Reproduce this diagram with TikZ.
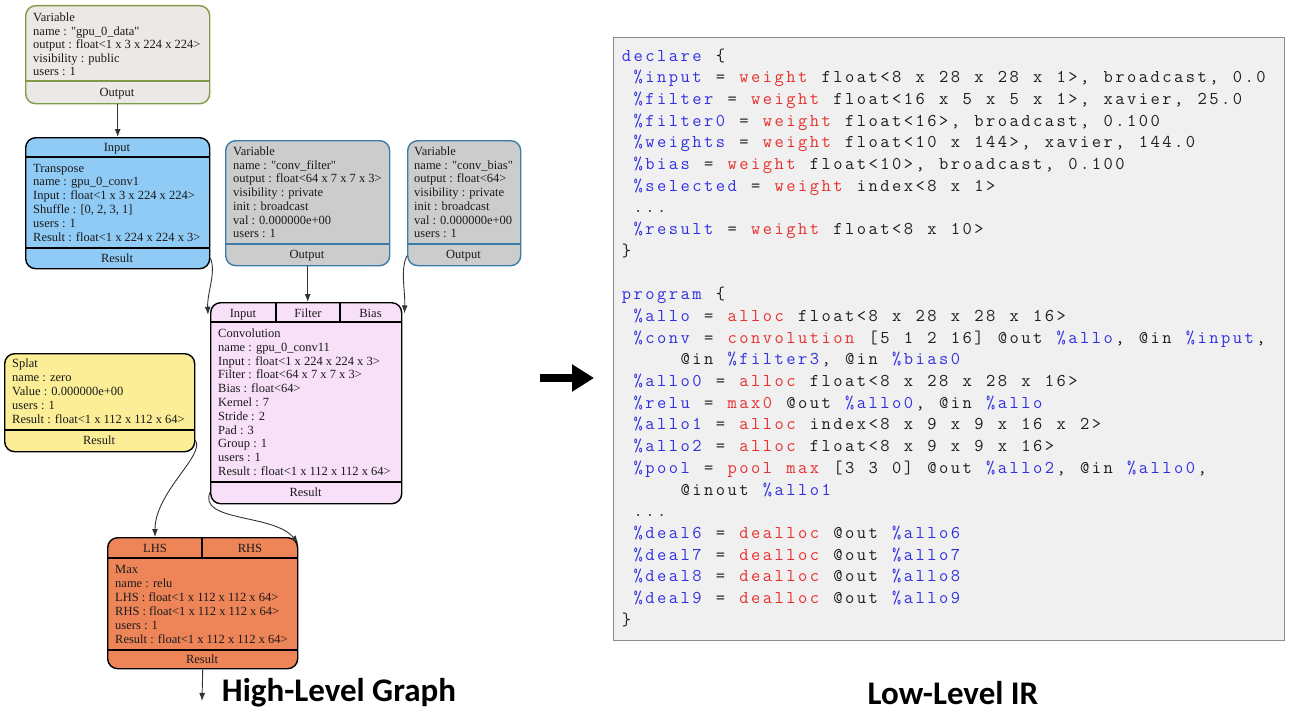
\documentclass[tikz,border=0pt]{standalone}
\usepackage{fontspec}
\setmainfont{Liberation Serif}
\newfontfamily\capfont{Carlito}
\usetikzlibrary{arrows.meta}
\definecolor{gpufill}{HTML}{ECE8E5}
\definecolor{gpudraw}{HTML}{7F9A48}
\definecolor{trfill}{HTML}{8FCBF5}
\definecolor{varfill}{HTML}{CCCCCC}
\definecolor{vardraw}{HTML}{3B7DA6}
\definecolor{convfill}{HTML}{F8E0F8}
\definecolor{splatfill}{HTML}{FBEE96}
\definecolor{maxfill}{HTML}{EE8558}
\definecolor{edgecol}{HTML}{333333}
\definecolor{irfill}{HTML}{F0F0F0}
\definecolor{irdraw}{HTML}{8C8C8C}
\definecolor{codered}{HTML}{E8302E}
\definecolor{codeblue}{HTML}{3030E0}
\definecolor{codeblack}{HTML}{1E1E1E}
\definecolor{gtext}{HTML}{1A1A1A}
% fixed-column code lines
\newlength\cw \setlength\cw{11.75pt}
\newcommand\R{\color{codered}}
\newcommand\B{\color{codeblue}}
\newcommand\K{\color{codeblack}}
\def\cdlend{\cdlend}
\def\cdl#1{\K\cdlloop#1\cdlend}
\def\cdlloop#1{%
  \ifx#1\cdlend\let\cdlnext\relax
  \else
    \ifx#1\R\R\else\ifx#1\B\B\else\ifx#1\K\K\else
    \ifx#1_\hbox to\cw{\hss}\else\hbox to\cw{\hss#1\hss}\fi\fi\fi\fi
    \let\cdlnext\cdlloop
  \fi\cdlnext}
\newcommand\boxtext[5]{%
  \foreach \lbl [count=\i from 0] in {#5} {\node[txt] (#1-\i) at (#2, #3+#4*\i) {\lbl};}}
\newcommand\qq{\textquotedbl}
\tikzset{
  box/.style={draw, rounded corners=10pt, line width=1.4pt, inner sep=0pt, anchor=north west},
  txt/.style={font=\fontsize{12.5}{13.8}\selectfont, inner sep=0pt, anchor=base west, text=gtext},
  port/.style={font=\fontsize{12.5}{13.8}\selectfont, inner sep=0pt, anchor=base, text=gtext},
  div/.style={line width=1.2pt},
  edge/.style={draw=edgecol, line width=0.9pt, -{Latex[length=8pt,width=6pt]}},
  codeln/.style={inner sep=0pt, anchor=base west, font=\ttfamily\fontsize{18}{22}\selectfont},
}
\begin{document}
\begin{tikzpicture}[x=1pt,y=-1pt]
\useasboundingbox (0,0) rectangle (1289,725);

% ---------- gpu_0_data variable
\node[box, fill=gpufill, draw=gpudraw, minimum width=184pt, minimum height=98pt] (gpu) at (25,5) {};
\draw[div, gpudraw] ([yshift=-76pt]gpu.north west) -- ([yshift=-76pt]gpu.north east);
\boxtext{gpu}{33}{21.5}{13.6}{Variable, {name : \qq gpu\_0\_data\qq}, {output : float<1 x 3 x 224 x 224>}, {visibility : public}, {users : 1}}
\node[port] (gpuOut) at (117,96.5) {Output};

% ---------- Transpose
\node[box, fill=trfill, minimum width=184pt, minimum height=131pt] (tr) at (25,137) {};
\draw[div] ([yshift=-20pt]tr.north west) -- ([yshift=-20pt]tr.north east);
\draw[div] ([yshift=-111pt]tr.north west) -- ([yshift=-111pt]tr.north east);
\node[port] (trIn) at (117,151.5) {Input};
\boxtext{tr}{33}{172}{13.9}{Transpose, {name : gpu\_0\_conv1}, {Input : float<1 x 3 x 224 x 224>}, {Shuffle : [0, 2, 3, 1]}, {users : 1}, {Result : float<1 x 224 x 224 x 3>}}
\node[port] (trRes) at (117,262.5) {Result};

% ---------- conv_filter variable
\node[box, fill=varfill, draw=vardraw, minimum width=164pt, minimum height=125pt] (cf) at (225,140) {};
\draw[div, vardraw] ([yshift=-104pt]cf.north west) -- ([yshift=-104pt]cf.north east);
\boxtext{cf}{233}{155.5}{13.7}{Variable, {name : \qq conv\_filter\qq}, {output : float<64 x 7 x 7 x 3>}, {visibility : private}, {init : broadcast}, {val : 0.000000e+00}, {users : 1}}
\node[port] (cfOut) at (307,258.5) {Output};

% ---------- conv_bias variable
\node[box, fill=varfill, draw=vardraw, minimum width=113pt, minimum height=125pt] (cb) at (407,140) {};
\draw[div, vardraw] ([yshift=-104pt]cb.north west) -- ([yshift=-104pt]cb.north east);
\boxtext{cb}{414}{155.5}{13.7}{Variable, {name : \qq conv\_bias\qq}, {output : float<64>}, {visibility : private}, {init : broadcast}, {val : 0.000000e+00}, {users : 1}}
\node[port] (cbOut) at (463.5,258.5) {Output};

% ---------- Convolution
\node[box, fill=convfill, minimum width=191pt, minimum height=201pt] (conv) at (210,302) {};
\draw[div] ([yshift=-20pt]conv.north west) -- ([yshift=-20pt]conv.north east);
\draw[div] ([xshift=66pt]conv.north west) -- ([xshift=66pt,yshift=-20pt]conv.north west);
\draw[div] ([xshift=130pt]conv.north west) -- ([xshift=130pt,yshift=-20pt]conv.north west);
\draw[div] ([yshift=-180pt]conv.north west) -- ([yshift=-180pt]conv.north east);
\node[port] (convIn) at (243,317.5) {Input};
\node[port] (convFil) at (308,317.5) {Filter};
\node[port] (convBias) at (370.5,317.5) {Bias};
\boxtext{conv}{218}{337.5}{13.8}{Convolution, {name : gpu\_0\_conv11}, {Input : float<1 x 224 x 224 x 3>}, {Filter : float<64 x 7 x 7 x 3>}, {Bias : float<64>}, {Kernel : 7}, {Stride : 2}, {Pad : 3}, {Group : 1}, {users : 1}, {Result : float<1 x 112 x 112 x 64>}}
\node[port] (convRes) at (305.5,496.5) {Result};

% ---------- Splat
\node[box, fill=splatfill, minimum width=190pt, minimum height=98pt] (splat) at (4,353) {};
\draw[div] ([yshift=-77pt]splat.north west) -- ([yshift=-77pt]splat.north east);
\boxtext{splat}{12}{367.5}{13.9}{Splat, {name : zero}, {Value : 0.000000e+00}, {users : 1}, {Result : float<1 x 112 x 112 x 64>}}
\node[port] (splatRes) at (99,444.5) {Result};

% ---------- Max
\node[box, fill=maxfill, minimum width=190pt, minimum height=131pt] (mx) at (107,537) {};
\draw[div] ([yshift=-21pt]mx.north west) -- ([yshift=-21pt]mx.north east);
\draw[div] ([xshift=95pt]mx.north west) -- ([xshift=95pt,yshift=-21pt]mx.north west);
\draw[div] ([yshift=-113pt]mx.north west) -- ([yshift=-113pt]mx.north east);
\node[port] (mxL) at (155,552.5) {LHS};
\node[port] (mxR) at (250,552.5) {RHS};
\boxtext{mx}{115}{573.5}{13.9}{Max, {name : relu}, {LHS : float<1 x 112 x 112 x 64>}, {RHS : float<1 x 112 x 112 x 64>}, {users : 1}, {Result : float<1 x 112 x 112 x 64>}}
\node[port] (mxRes) at (202,663.5) {Result};

% ---------- edges
\draw[edge] (gpu.south) -- (tr.north);
\draw[edge] (trRes -| tr.east) .. controls +(6,14) and +(-1,-22) .. ([xshift=-2pt]convIn -| conv.west);
\draw[edge] (cf.south) -- (cf.south |- conv.north);
\draw[edge] (cbOut -| cb.west) .. controls +(-7,14) and +(1,-22) .. ([xshift=2pt]convBias -| conv.east);
\draw[edge] (splatRes -| splat.east) .. controls +(10,15) and +(0,-45) .. (mxL |- mx.north);
\draw[edge] (convRes -| conv.west) .. controls +(-12,30) and +(-25,-30) .. ([yshift=5pt]mxR -| mx.east);
\coordinate (outEnd) at (202,701);
\draw[edge] (mx.south) -- (outEnd);

% ---------- big arrow
\coordinate (bigA) at (540,378);
\coordinate (bigB) at (594,378);
\draw[line width=8pt, -{Triangle[length=22pt,width=26pt]}] (bigA) -- (bigB);

% ---------- captions
\node[font=\capfont\bfseries\fontsize{33}{36}\selectfont] (capL) at (339,693) {High-Level Graph};
\node[font=\capfont\bfseries\fontsize{33}{36}\selectfont] (capR) at (953,693) {Low-Level IR};

% ---------- IR box
\node[draw=irdraw, fill=irfill, line width=1.2pt, minimum width=671pt, minimum height=603pt, anchor=north west, inner sep=0pt] (ir) at (613,37) {};
\node[codeln] (c0) at (620.5,61.0) {\cdl{\B declare\K_\{}};
\node[codeln] (c1) at (620.5,82.7) {\cdl{_\B\%input\K_=_\R weight\K_float<8_x_28_x_28_x_1>,_broadcast,_0.0}};
\node[codeln] (c2) at (620.5,104.4) {\cdl{_\B\%filter\K_=_\R weight\K_float<16_x_5_x_5_x_1>,_xavier,_25.0}};
\node[codeln] (c3) at (620.5,126.1) {\cdl{_\B\%filter0\K_=_\R weight\K_float<16>,_broadcast,_0.100}};
\node[codeln] (c4) at (620.5,147.8) {\cdl{_\B\%weights\K_=_\R weight\K_float<10_x_144>,_xavier,_144.0}};
\node[codeln] (c5) at (620.5,169.5) {\cdl{_\B\%bias\K_=_\R weight\K_float<10>,_broadcast,_0.100}};
\node[codeln] (c6) at (620.5,191.2) {\cdl{_\B\%selected\K_=_\R weight\K_index<8_x_1>}};
\node[codeln] (c7) at (620.5,212.9) {\cdl{_...}};
\node[codeln] (c8) at (620.5,234.6) {\cdl{_\B\%result\K_=_\R weight\K_float<8_x_10>}};
\node[codeln] (c9) at (620.5,256.3) {\cdl{\}}};
\node[codeln] (c11) at (620.5,299.7) {\cdl{\B program\K_\{}};
\node[codeln] (c12) at (620.5,321.4) {\cdl{_\B\%allo\K_=_\R alloc\K_float<8_x_28_x_28_x_16>}};
\node[codeln] (c13) at (620.5,343.1) {\cdl{_\B\%conv\K_=_\R convolution\K_[5_1_2_16]_@out_\B\%allo\K,_@in_\B\%input\K,}};
\node[codeln] (c14) at (620.5,364.8) {\cdl{_____@in_\B\%filter3\K,_@in_\B\%bias0}};
\node[codeln] (c15) at (620.5,386.5) {\cdl{_\B\%allo0\K_=_\R alloc\K_float<8_x_28_x_28_x_16>}};
\node[codeln] (c16) at (620.5,408.2) {\cdl{_\B\%relu\K_=_\R max0\K_@out_\B\%allo0\K,_@in_\B\%allo}};
\node[codeln] (c17) at (620.5,429.9) {\cdl{_\B\%allo1\K_=_\R alloc\K_index<8_x_9_x_9_x_16_x_2>}};
\node[codeln] (c18) at (620.5,451.6) {\cdl{_\B\%allo2\K_=_\R alloc\K_float<8_x_9_x_9_x_16>}};
\node[codeln] (c19) at (620.5,473.3) {\cdl{_\B\%pool\K_=_\R pool_max\K_[3_3_0]_@out_\B\%allo2\K,_@in_\B\%allo0\K,}};
\node[codeln] (c20) at (620.5,495.0) {\cdl{_____@inout_\B\%allo1}};
\node[codeln] (c21) at (620.5,516.7) {\cdl{_...}};
\node[codeln] (c22) at (620.5,538.4) {\cdl{_\B\%deal6\K_=_\R dealloc\K_@out_\B\%allo6}};
\node[codeln] (c23) at (620.5,560.1) {\cdl{_\B\%deal7\K_=_\R dealloc\K_@out_\B\%allo7}};
\node[codeln] (c24) at (620.5,581.8) {\cdl{_\B\%deal8\K_=_\R dealloc\K_@out_\B\%allo8}};
\node[codeln] (c25) at (620.5,603.5) {\cdl{_\B\%deal9\K_=_\R dealloc\K_@out_\B\%allo9}};
\node[codeln] (c26) at (620.5,625.2) {\cdl{\}}};
\end{tikzpicture}
\end{document}
